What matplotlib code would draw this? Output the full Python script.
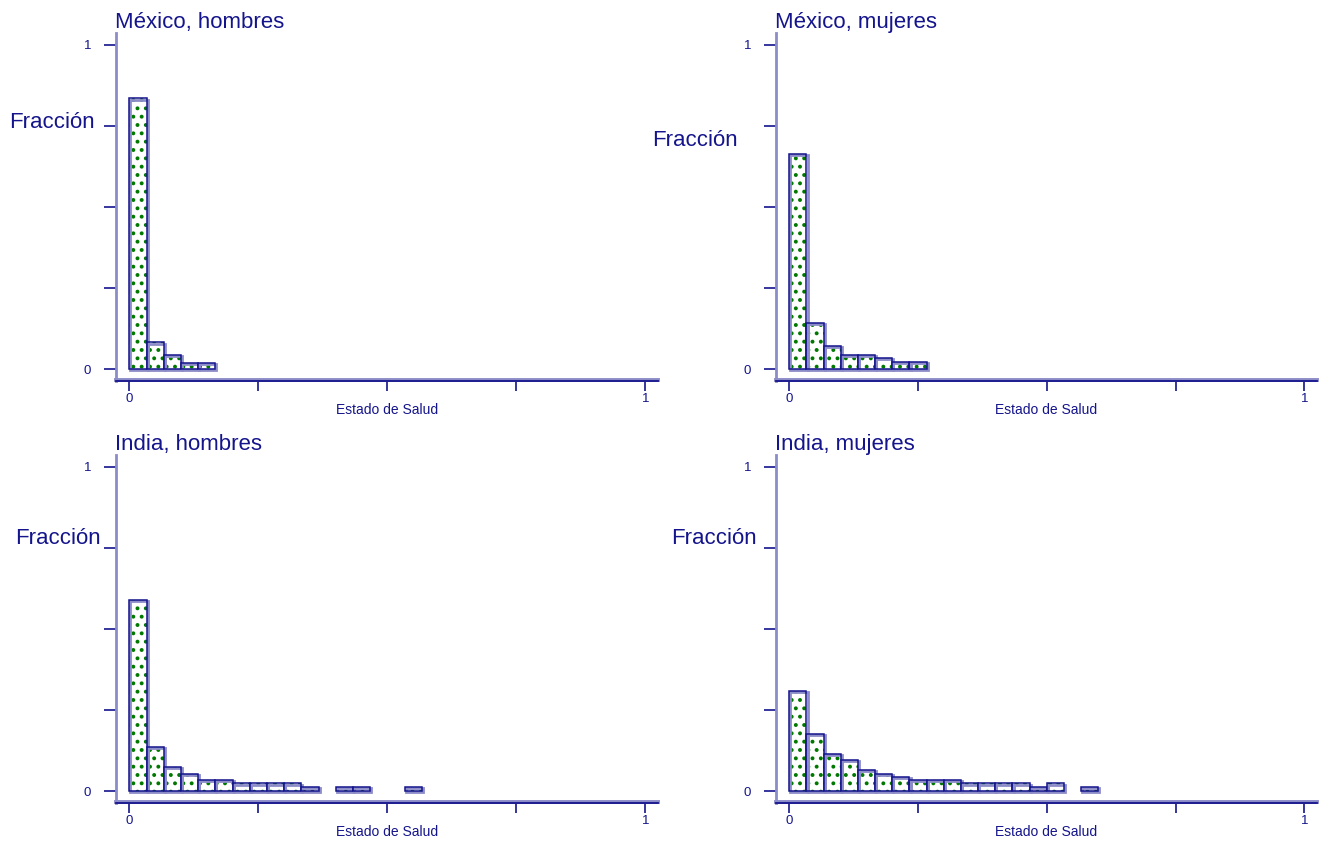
import matplotlib
matplotlib.use("Agg")
import matplotlib.pyplot as plt
import matplotlib.patheffects as pe
import numpy as np

plt.rcParams['font.family'] = ['Liberation Sans', 'DejaVu Sans']
plt.rcParams['hatch.linewidth'] = 1.6

# ---- data ----
bin_width = 1 / 30.0
titles = ["México, hombres", "México, mujeres", "India, hombres", "India, mujeres"]
# bin index of each bar, and its fraction
mex_h_bins = [0, 1, 2, 3, 4]
mex_h_frac = [0.835, 0.082, 0.043, 0.020, 0.020]
mex_m_bins = [0, 1, 2, 3, 4, 5, 6, 7]
mex_m_frac = [0.665, 0.143, 0.072, 0.043, 0.043, 0.033, 0.022, 0.022]
ind_h_bins = [0, 1, 2, 3, 4, 5, 6, 7, 8, 9, 10, 12, 13, 16]
ind_h_frac = [0.590, 0.136, 0.074, 0.053, 0.034, 0.034, 0.0235, 0.0235, 0.0235,
              0.0235, 0.012, 0.012, 0.012, 0.012]
ind_m_bins = [0, 1, 2, 3, 4, 5, 6, 7, 8, 9, 10, 11, 12, 13, 14, 15, 17]
ind_m_frac = [0.310, 0.176, 0.115, 0.095, 0.064, 0.053, 0.043, 0.033, 0.033,
              0.033, 0.0235, 0.0235, 0.0235, 0.0235, 0.012, 0.0235, 0.012]
y_ticks = [0, 0.25, 0.5, 0.75, 1]
y_ticklabels = ["0", "", "", "", "1"]
x_ticks = [0, 0.25, 0.5, 0.75, 1]
x_ticklabels = ["0", "", "", "", "1"]
xlabel = "Estado de Salud"
ylabel = "Fracción"

panels = [
    (mex_h_bins, mex_h_frac),
    (mex_m_bins, mex_m_frac),
    (ind_h_bins, ind_h_frac),
    (ind_m_bins, ind_m_frac),
]

NAVY = '#14148c'
LIGHT = '#8c8cc8'
GREEN = '#007800'

W, H = 1320, 842
fig = plt.figure(figsize=(W / 100, H / 100), dpi=100)
fig.patch.set_facecolor('white')

# axes rects in pixel coords: (left, top, right, bottom)
rects = [
    (116, 33, 658, 381),
    (776, 33, 1317, 381),
    (116, 455, 658, 803),
    (776, 455, 1317, 803),
]
# ylabel positions (x right edge px, y center px)
ylab_pos = [(95, 122), (738, 141), (101, 538), (757, 538)]

for i, ((bins, frac), (l, t, r, b)) in enumerate(zip(panels, rects)):
    ax = fig.add_axes([l / W, (H - b) / H, (r - l) / W, (b - t) / H])
    lefts = np.array(bins) * bin_width
    ax.bar(lefts, frac, width=bin_width, align='edge', color='white',
           edgecolor=GREEN, hatch='..', linewidth=0, zorder=2)
    ax.bar(lefts, frac, width=bin_width, align='edge', fill=False,
           edgecolor=NAVY, linewidth=1.1, zorder=3,
           path_effects=[pe.Stroke(linewidth=2.0, foreground=LIGHT, offset=(0.8, -0.8)),
                         pe.Normal()])
    ax.set_xlim(-0.0258, 1.0246)
    ax.set_ylim(-0.037, 1.037)
    for s in ['top', 'right']:
        ax.spines[s].set_visible(False)
    ax.spines['left'].set_color(LIGHT)
    ax.spines['left'].set_linewidth(2.0)
    ax.spines['bottom'].set_color(NAVY)
    ax.spines['bottom'].set_linewidth(1.3)
    ax.spines['bottom'].set_path_effects([pe.Stroke(linewidth=2.8, foreground=LIGHT, offset=(0, 1)), pe.Normal()])
    ax.set_yticks(y_ticks)
    ax.set_yticklabels(y_ticklabels)
    ax.set_xticks(x_ticks)
    ax.set_xticklabels(x_ticklabels)
    ax.tick_params(axis='y', length=9, width=1.2, color=NAVY, labelcolor=NAVY,
                   labelsize=9.5, pad=9)
    ax.tick_params(axis='x', length=7, width=1.2, color=NAVY, labelcolor=NAVY,
                   labelsize=9.5, pad=1.5)
    ax.set_xlabel(xlabel, color=NAVY, fontsize=10, labelpad=-1)
    ax.set_title(titles[i], loc='left', color=NAVY, fontsize=16, pad=3, x=-0.002)
    xr, yc = ylab_pos[i]
    fig.text(xr / W, (H - yc) / H, ylabel, ha='right', va='center',
             color=NAVY, fontsize=16)

fig.savefig('out.png', dpi=100, facecolor='white')
